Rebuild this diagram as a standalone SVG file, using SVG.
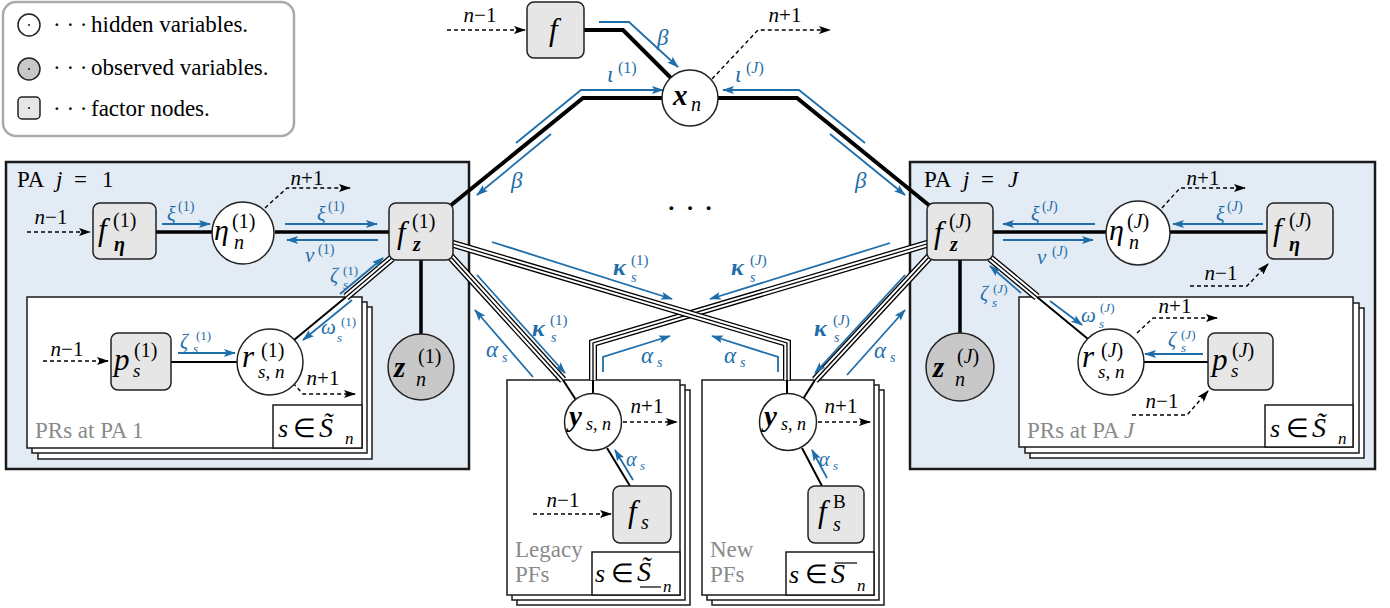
<svg xmlns="http://www.w3.org/2000/svg" width="1390" height="608" viewBox="0 0 1390 608" font-family="Liberation Serif, serif">
<defs>
<style>
.m{font-style:italic}
.u{font-style:normal}
.up{font-style:normal}
.it{font-style:italic}
.bd{font-weight:bold}
.bt{fill:#1f6eaa}
.gt{fill:#8a8a8a}
.fac{fill:#e6e6e6;stroke:#222;stroke-width:1.5}
.hid{fill:#fff;stroke:#222;stroke-width:1.5}
.obs{fill:#c8c8c8;stroke:#222;stroke-width:1.5}
.pa{fill:#e3ebf4;stroke:#1a1a1a;stroke-width:2.5}
.pl{fill:#fff;stroke:#1a1a1a;stroke-width:1.5}
.thk{stroke:#000;stroke-width:4;fill:none}
.thm{stroke:#000;stroke-width:3.5;fill:none}
.thn{stroke:#000;stroke-width:2;fill:none}
.blu{stroke:#1f6eaa;stroke-width:1.8;fill:none;marker-end:url(#ab)}
.dsh{stroke:#000;stroke-width:1.4;stroke-dasharray:4 3;fill:none;marker-end:url(#ak)}
.t1{stroke:#000;stroke-width:8;fill:none}
.t2{stroke:#fff;stroke-width:5.4;fill:none}
.t3{stroke:#000;stroke-width:1.3;fill:none}
</style>
<marker id="ab" viewBox="0 0 12 8" refX="11" refY="4" markerWidth="12" markerHeight="8" markerUnits="userSpaceOnUse" orient="auto"><path d="M0,0 L12,4 L0,8 L2.5,4 z" fill="#1f6eaa"/></marker>
<marker id="ak" viewBox="0 0 12 8" refX="11" refY="4" markerWidth="12" markerHeight="8" markerUnits="userSpaceOnUse" orient="auto"><path d="M0,0 L12,4 L0,8 L2.5,4 z" fill="#000"/></marker>
<path id="T1" d="M392,258 L346,297"/>
<path id="T2" d="M450,256 L563,380"/>
<path id="T3" d="M450,243 L787,343 L787,380"/>
<path id="T4" d="M930,243 L593,343 L593,380"/>
<path id="T5" d="M930,256 L815,380"/>
<path id="T6" d="M990,258 L1037,297"/>
</defs>

<g id="legend">
<rect x="3" y="2" width="291" height="134" rx="13" fill="#fff" stroke="#aaa" stroke-width="2.5"/>
<circle cx="29" cy="25" r="11" class="hid"/><circle cx="29" cy="25" r="0.9" fill="#000"/>
<circle cx="29" cy="69" r="11" class="obs"/><circle cx="29" cy="69" r="0.9" fill="#000"/>
<rect x="18" y="97" width="22" height="22" rx="4" class="fac"/><circle cx="29" cy="108" r="0.9" fill="#000"/>
<text font-size="23"><tspan x="53" y="32">· · ·</tspan><tspan x="91" y="32">hidden variables.</tspan></text>
<text font-size="23"><tspan x="53" y="75">· · ·</tspan><tspan x="91" y="75">observed variables.</tspan></text>
<text font-size="23"><tspan x="53" y="116">· · ·</tspan><tspan x="91" y="116">factor nodes.</tspan></text>
</g>

<g id="pa-1">
<rect x="6" y="162" width="463" height="307" class="pa"/>
<text font-size="23"><tspan x="17" y="187">PA</tspan><tspan x="56" class="it">j</tspan><tspan x="74">=</tspan><tspan x="102">1</tspan></text>
</g>
<g id="pa-J">
<rect x="910" y="162" width="465" height="307" class="pa"/>
<text font-size="23"><tspan x="924" y="187">PA</tspan><tspan x="963" class="it">j</tspan><tspan x="981">=</tspan><tspan x="1008" class="it">J</tspan></text>
</g>

<g id="plate-pr-1">
<rect x="38" y="307" width="334" height="152" class="pl"/>
<rect x="32" y="302" width="335" height="151" class="pl"/>
<rect x="27" y="297" width="335" height="151" class="pl"/>
<rect x="273" y="405" width="89" height="43" class="pl"/>
<text x="35" y="438" class="gt" font-size="23">PRs at PA 1</text>
<text class="m" font-size="26"><tspan x="278" y="437">s</tspan><tspan x="293" class="up">∈</tspan><tspan x="319" font-size="28">S̃</tspan><tspan x="345" y="444" font-size="17">n</tspan></text>
</g>
<g id="plate-pr-J">
<rect x="1030" y="308" width="334" height="150" class="pl"/>
<rect x="1025" y="303" width="334" height="150" class="pl"/>
<rect x="1019" y="297" width="334" height="150" class="pl"/>
<rect x="1265" y="405" width="88" height="42" class="pl"/>
<text class="gt" font-size="23"><tspan x="1027" y="438">PRs at PA </tspan><tspan class="it">J</tspan></text>
<text class="m" font-size="26"><tspan x="1270" y="437">s</tspan><tspan x="1286" class="up">∈</tspan><tspan x="1312" font-size="28">S̃</tspan><tspan x="1338" y="444" font-size="17">n</tspan></text>
</g>
<g id="plate-legacy">
<rect x="517" y="390" width="173" height="215" class="pl"/>
<rect x="512" y="385" width="173" height="215" class="pl"/>
<rect x="507" y="380" width="173" height="215" class="pl"/>
<rect x="592" y="552" width="88" height="43" class="pl"/>
<text class="gt" font-size="23"><tspan x="515" y="557">Legacy</tspan><tspan x="515" y="582">PFs</tspan></text>
<text class="m" font-size="26"><tspan x="595" y="582">s</tspan><tspan x="611" class="up">∈</tspan><tspan x="637" y="581" font-size="28">S̃</tspan><tspan x="663" y="592" font-size="17">n</tspan></text>
<line x1="640" y1="587" x2="661" y2="587" stroke="#000" stroke-width="1.2"/>
</g>
<g id="plate-new">
<rect x="712" y="390" width="172" height="215" class="pl"/>
<rect x="707" y="385" width="172" height="215" class="pl"/>
<rect x="702" y="380" width="172" height="215" class="pl"/>
<rect x="786" y="552" width="88" height="43" class="pl"/>
<text class="gt" font-size="23"><tspan x="710" y="557">New</tspan><tspan x="710" y="582">PFs</tspan></text>
<text class="m" font-size="26"><tspan x="789" y="583">s</tspan><tspan x="805" class="up">∈</tspan><tspan x="831" font-size="28">S</tspan><tspan x="857" y="591" font-size="17">n</tspan></text>
<line x1="835" y1="563" x2="857" y2="563" stroke="#000" stroke-width="1.2"/>
</g>

<g id="connectors">
<path class="thk" d="M584,30 L623,30 L671,78"/>
<path class="thk" d="M662,98 L583,98 L450,206"/>
<path class="thk" d="M718,98 L797,98 L930,206"/>
<path class="thm" d="M156,232 L212,232"/>
<path class="thm" d="M275,232 L389,232"/>
<path class="thm" d="M421,260 L421,334"/>
<path class="thm" d="M993,232 L1106,232"/>
<path class="thm" d="M1170,232 L1267,232"/>
<path class="thm" d="M960,260 L960,333"/>
<path class="thn" d="M171,362 L238,362"/>
<path class="thn" d="M1144,362 L1208,362"/>
<path class="thn" d="M630,486 L607,448"/>
<path class="thn" d="M822,486 L802,448"/>
<path class="thn" d="M346,297 L294,340"/>
<path class="thn" d="M563,380 L576,400"/>
<path class="thn" d="M787,380 L787,394"/>
<path class="thn" d="M593,380 L593,394"/>
<path class="thn" d="M815,380 L803,399"/>
<path class="thn" d="M1037,297 L1088,339"/>
<use href="#T1" class="t1"/><use href="#T1" class="t2"/><use href="#T1" class="t3"/>
<use href="#T2" class="t1"/><use href="#T2" class="t2"/><use href="#T2" class="t3"/>
<use href="#T4" class="t1"/><use href="#T4" class="t2"/><use href="#T4" class="t3"/>
<use href="#T3" class="t1"/><use href="#T3" class="t2"/><use href="#T3" class="t3"/>
<use href="#T5" class="t1"/><use href="#T5" class="t2"/><use href="#T5" class="t3"/>
<use href="#T6" class="t1"/><use href="#T6" class="t2"/><use href="#T6" class="t3"/>

<path class="dsh" d="M447,30 L525,30"/>
<path class="dsh" d="M712,79 L758,30 L830,30"/>
<path class="dsh" d="M27,232 L90,232"/>
<path class="dsh" d="M265,208 L287,188 L350,188"/>
<path class="dsh" d="M43,361 L108,361"/>
<path class="dsh" d="M293,383 L303,394 L355,394"/>
<path class="dsh" d="M623,422 L677,422"/>
<path class="dsh" d="M533,514 L611,514"/>
<path class="dsh" d="M818,422 L870,422"/>
<path class="dsh" d="M1162,208 L1180,188 L1245,188"/>
<path class="dsh" d="M1190,286 L1247,286 L1268,264"/>
<path class="dsh" d="M1137,333 L1153,318 L1217,318"/>
<path class="dsh" d="M1132,415 L1187,415 L1208,391"/>

<path class="blu" d="M599,22 L629,22 L678,67"/>
<path class="blu" d="M516,143 L581,90 L663,90"/>
<path class="blu" d="M865,143 L799,90 L723,90"/>
<path class="blu" d="M551,134 L477,195"/>
<path class="blu" d="M830,134 L905,195"/>
<path class="blu" d="M162,224 L210,224"/>
<path class="blu" d="M285,224 L377,224"/>
<path class="blu" d="M378,240 L287,240"/>
<path class="blu" d="M340,294 L383,258"/>
<path class="blu" d="M352,300 L303,340"/>
<path class="blu" d="M178,353 L235,353"/>
<path class="blu" d="M492,242 L672,299"/>
<path class="blu" d="M477,275 L565,373"/>
<path class="blu" d="M533,377 L475,310"/>
<path class="blu" d="M890,243 L710,299"/>
<path class="blu" d="M905,275 L815,373"/>
<path class="blu" d="M847,375 L905,310"/>
<path class="blu" d="M603,372 L603,357 L670,336"/>
<path class="blu" d="M778,372 L778,357 L712,336"/>
<path class="blu" d="M633,480 L615,450"/>
<path class="blu" d="M827,478 L812,450"/>
<path class="blu" d="M1095,224 L1003,224"/>
<path class="blu" d="M1003,240 L1093,240"/>
<path class="blu" d="M1263,224 L1173,224"/>
<path class="blu" d="M1021,293 L990,266"/>
<path class="blu" d="M1050,301 L1082,325"/>
<path class="blu" d="M1203,354 L1145,354"/>
</g>

<g id="labels-dashed" class="m" font-size="21">
<text x="480" y="22" text-anchor="middle">n<tspan class="up">−1</tspan></text>
<text x="785" y="22" text-anchor="middle">n<tspan class="up">+1</tspan></text>
<text x="51" y="224" text-anchor="middle">n<tspan class="up">−1</tspan></text>
<text x="307" y="185" text-anchor="middle">n<tspan class="up">+1</tspan></text>
<text x="67" y="356" text-anchor="middle">n<tspan class="up">−1</tspan></text>
<text x="323" y="385" text-anchor="middle">n<tspan class="up">+1</tspan></text>
<text x="647" y="413" text-anchor="middle">n<tspan class="up">+1</tspan></text>
<text x="563" y="507" text-anchor="middle">n<tspan class="up">−1</tspan></text>
<text x="841" y="413" text-anchor="middle">n<tspan class="up">+1</tspan></text>
<text x="1203" y="185" text-anchor="middle">n<tspan class="up">+1</tspan></text>
<text x="1221" y="280" text-anchor="middle">n<tspan class="up">−1</tspan></text>
<text x="1175" y="313" text-anchor="middle">n<tspan class="up">+1</tspan></text>
<text x="1162" y="408" text-anchor="middle">n<tspan class="up">−1</tspan></text>
</g>

<g id="labels-msg" class="m bt">
<text x="657" y="45" font-size="23">β</text>
<text font-size="23"><tspan x="607" y="82">ι</tspan><tspan x="618" y="73" font-size="16" class="up">(1)</tspan></text>
<text font-size="23"><tspan x="735" y="82">ι</tspan><tspan x="746" y="73" font-size="16" class="up">(<tspan class="it">J</tspan>)</tspan></text>
<text x="511" y="188" font-size="23">β</text>
<text x="855" y="188" font-size="23">β</text>
<text font-size="20"><tspan x="167" y="221">ξ</tspan><tspan x="178" y="211" font-size="14" class="up">(1)</tspan></text>
<text font-size="20"><tspan x="317" y="221">ξ</tspan><tspan x="328" y="211" font-size="14" class="up">(1)</tspan></text>
<text font-size="21"><tspan x="305" y="262">ν</tspan><tspan x="318" y="254" font-size="14" class="up">(1)</tspan></text>
<text font-size="20"><tspan x="330" y="282">ζ</tspan><tspan x="343" y="275" font-size="13" class="up">(1)</tspan><tspan x="343" y="289" font-size="13">s</tspan></text>
<text font-size="21"><tspan x="321" y="334">ω</tspan><tspan x="341" y="326" font-size="13" class="up">(1)</tspan><tspan x="337" y="342" font-size="13">s</tspan></text>
<text font-size="20"><tspan x="180" y="348">ζ</tspan><tspan x="196" y="340" font-size="13" class="up">(1)</tspan><tspan x="193" y="353" font-size="13">s</tspan></text>
<text font-size="24"><tspan x="613" y="275" class="bd">κ</tspan><tspan x="631" y="265" font-size="15" class="up">(1)</tspan><tspan x="631" y="282" font-size="14">s</tspan></text>
<text font-size="24"><tspan x="731" y="275" class="bd">κ</tspan><tspan x="750" y="265" font-size="15" class="up">(<tspan class="it">J</tspan>)</tspan><tspan x="750" y="282" font-size="14">s</tspan></text>
<text font-size="24"><tspan x="532" y="336" class="bd">κ</tspan><tspan x="550" y="325" font-size="15" class="up">(1)</tspan><tspan x="551" y="342" font-size="14">s</tspan></text>
<text font-size="24"><tspan x="814" y="336" class="bd">κ</tspan><tspan x="833" y="325" font-size="15" class="up">(<tspan class="it">J</tspan>)</tspan><tspan x="834" y="342" font-size="14">s</tspan></text>
<text font-size="23"><tspan x="486" y="357">α</tspan><tspan x="502" y="362" font-size="14">s</tspan></text>
<text font-size="23"><tspan x="874" y="358">α</tspan><tspan x="890" y="362" font-size="14">s</tspan></text>
<text font-size="23"><tspan x="641" y="363">α</tspan><tspan x="657" y="367" font-size="14">s</tspan></text>
<text font-size="23"><tspan x="724" y="363">α</tspan><tspan x="740" y="367" font-size="14">s</tspan></text>
<text font-size="20"><tspan x="626" y="466">α</tspan><tspan x="640" y="470" font-size="13">s</tspan></text>
<text font-size="20"><tspan x="819" y="466">α</tspan><tspan x="833" y="470" font-size="13">s</tspan></text>
<text font-size="20"><tspan x="1031" y="221">ξ</tspan><tspan x="1042" y="211" font-size="14" class="up">(<tspan class="it">J</tspan>)</tspan></text>
<text font-size="20"><tspan x="1216" y="221">ξ</tspan><tspan x="1227" y="211" font-size="14" class="up">(<tspan class="it">J</tspan>)</tspan></text>
<text font-size="21"><tspan x="1037" y="264">ν</tspan><tspan x="1052" y="256" font-size="14" class="up">(<tspan class="it">J</tspan>)</tspan></text>
<text font-size="20"><tspan x="980" y="300">ζ</tspan><tspan x="993" y="293" font-size="13" class="up">(<tspan class="it">J</tspan>)</tspan><tspan x="992" y="307" font-size="13">s</tspan></text>
<text font-size="21"><tspan x="1081" y="322">ω</tspan><tspan x="1100" y="312" font-size="13" class="up">(<tspan class="it">J</tspan>)</tspan><tspan x="1099" y="328" font-size="13">s</tspan></text>
<text font-size="20"><tspan x="1168" y="346">ζ</tspan><tspan x="1181" y="339" font-size="13" class="up">(<tspan class="it">J</tspan>)</tspan><tspan x="1181" y="352" font-size="13">s</tspan></text>
</g>

<text x="690" y="219" font-size="32" text-anchor="middle">· · ·</text>

<g id="node-f">
<rect x="527" y="2" width="57" height="56" rx="7" class="fac"/>
<text x="549" y="40" class="m" font-size="31">f</text>
</g>
<g id="node-x">
<circle cx="690" cy="98" r="28" class="hid"/>
<text class="m" font-size="29"><tspan x="673" y="105" class="bd">x</tspan><tspan x="691" y="111" font-size="20">n</tspan></text>
</g>
<g id="node-feta1">
<rect x="93" y="203" width="63" height="56" rx="7" class="fac"/>
<text class="m" font-size="31"><tspan x="98" y="240">f</tspan><tspan x="113" y="227" font-size="20" class="up">(1)</tspan><tspan x="114" y="251" font-size="20" class="bd">η</tspan></text>
</g>
<g id="node-eta1">
<circle cx="243" cy="233" r="31" class="hid"/>
<text class="m" font-size="30"><tspan x="214" y="240">η</tspan><tspan x="232" y="228" font-size="20" class="up">(1)</tspan><tspan x="234" y="249" font-size="20">n</tspan></text>
</g>
<g id="node-fz1">
<rect x="389" y="203" width="64" height="57" rx="7" class="fac"/>
<text class="m" font-size="31"><tspan x="397" y="243">f</tspan><tspan x="412" y="228" font-size="20" class="up">(1)</tspan><tspan x="413" y="251" font-size="20" class="bd">z</tspan></text>
</g>
<g id="node-z1">
<circle cx="421" cy="367" r="33" class="obs"/>
<text class="m" font-size="29"><tspan x="394" y="377" class="bd">z</tspan><tspan x="418" y="363" font-size="20" class="up">(1)</tspan><tspan x="416" y="386" font-size="20">n</tspan></text>
</g>
<g id="node-p1">
<rect x="111" y="333" width="60" height="57" rx="7" class="fac"/>
<text class="m" font-size="31"><tspan x="114" y="370">p</tspan><tspan x="134" y="357" font-size="20" class="up">(1)</tspan><tspan x="133" y="377" font-size="19">s</tspan></text>
</g>
<g id="node-r1">
<circle cx="270" cy="362" r="33" class="hid"/>
<text class="m" font-size="31"><tspan x="242" y="367">r</tspan><tspan x="261" y="357" font-size="20" class="up">(1)</tspan><tspan x="258" y="378" font-size="19">s, n</tspan></text>
</g>
<g id="node-y-legacy">
<circle cx="593" cy="422" r="28.5" class="hid"/>
<text class="m" font-size="29"><tspan x="569" y="426" class="bd">y</tspan><tspan x="586" y="430" font-size="18">s, n</tspan></text>
</g>
<g id="node-fs">
<rect x="613" y="486" width="58" height="57" rx="7" class="fac"/>
<text class="m" font-size="31"><tspan x="628" y="522">f</tspan><tspan x="641" y="529" font-size="20">s</tspan></text>
</g>
<g id="node-y-new">
<circle cx="788" cy="422" r="28.5" class="hid"/>
<text class="m" font-size="29"><tspan x="764" y="426" class="bd">y</tspan><tspan x="781" y="430" font-size="18">s, n</tspan></text>
</g>
<g id="node-fsB">
<rect x="808" y="486" width="56" height="57" rx="7" class="fac"/>
<text class="m" font-size="31"><tspan x="818" y="522">f</tspan><tspan x="833" y="508" font-size="19" class="up">B</tspan><tspan x="833" y="531" font-size="20">s</tspan></text>
</g>
<g id="node-fzJ">
<rect x="927" y="203" width="66" height="57" rx="7" class="fac"/>
<text class="m" font-size="31"><tspan x="934" y="243">f</tspan><tspan x="949" y="228" font-size="20" class="up">(<tspan class="it">J</tspan>)</tspan><tspan x="950" y="251" font-size="20" class="bd">z</tspan></text>
</g>
<g id="node-etaJ">
<circle cx="1138" cy="233" r="32" class="hid"/>
<text class="m" font-size="30"><tspan x="1109" y="240">η</tspan><tspan x="1127" y="228" font-size="20" class="up">(<tspan class="it">J</tspan>)</tspan><tspan x="1129" y="249" font-size="20">n</tspan></text>
</g>
<g id="node-fetaJ">
<rect x="1267" y="203" width="66" height="56" rx="7" class="fac"/>
<text class="m" font-size="31"><tspan x="1273" y="240">f</tspan><tspan x="1289" y="227" font-size="20" class="up">(<tspan class="it">J</tspan>)</tspan><tspan x="1289" y="251" font-size="20" class="bd">η</tspan></text>
</g>
<g id="node-zJ">
<circle cx="960" cy="367" r="34" class="obs"/>
<text class="m" font-size="29"><tspan x="933" y="377" class="bd">z</tspan><tspan x="957" y="363" font-size="20" class="up">(<tspan class="it">J</tspan>)</tspan><tspan x="955" y="386" font-size="20">n</tspan></text>
</g>
<g id="node-rJ">
<circle cx="1111" cy="362" r="33" class="hid"/>
<text class="m" font-size="31"><tspan x="1082" y="367">r</tspan><tspan x="1101" y="357" font-size="20" class="up">(<tspan class="it">J</tspan>)</tspan><tspan x="1098" y="378" font-size="19">s, n</tspan></text>
</g>
<g id="node-pJ">
<rect x="1208" y="333" width="65" height="57" rx="7" class="fac"/>
<text class="m" font-size="31"><tspan x="1212" y="370">p</tspan><tspan x="1232" y="357" font-size="20" class="up">(<tspan class="it">J</tspan>)</tspan><tspan x="1231" y="377" font-size="19">s</tspan></text>
</g>
</svg>
